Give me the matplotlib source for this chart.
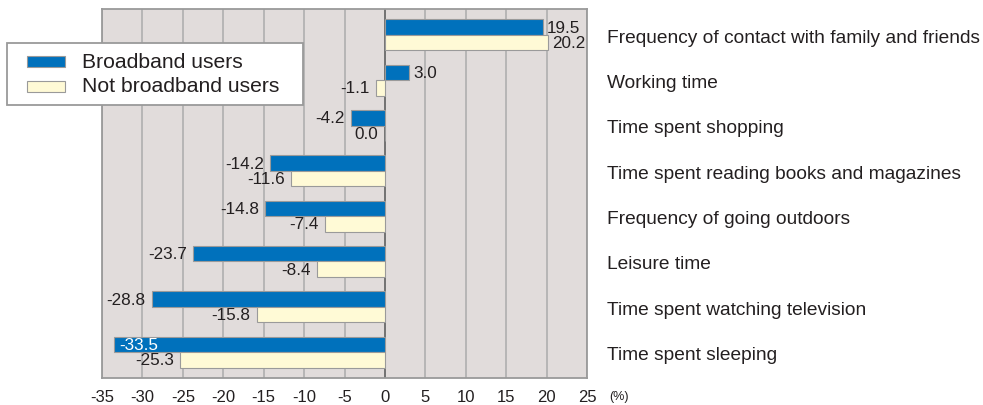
import numpy as np
import matplotlib
matplotlib.use('Agg')
import matplotlib.pyplot as plt
import matplotlib.patches as ptc
import matplotlib.transforms as mtr

plt.rcParams['font.family'] = ['Liberation Sans', 'DejaVu Sans']

categories = ['Frequency of contact with family and friends',
              'Working time',
              'Time spent shopping',
              'Time spent reading books and magazines',
              'Frequency of going outdoors',
              'Leisure time',
              'Time spent watching television',
              'Time spent sleeping']
broadband = [19.5, 3.0, -4.2, -14.2, -14.8, -23.7, -28.8, -33.5]
not_broadband = [20.2, -1.1, 0.0, -11.6, -7.4, -8.4, -15.8, -25.3]
series_names = ['Broadband users', 'Not broadband users']
xticks = list(range(-35, 30, 5))

BLUE = '#0071bc'
CREAM = '#fffad6'
EDGE = '#9a9a9a'
INK = '#231f20'

W, H = 983, 406
fig = plt.figure(figsize=(W/100, H/100), dpi=100)
ax = fig.add_axes([102/W, 27/H, 485/W, 369/H])
ax.set_facecolor('#e1dcdb')

y = np.arange(len(categories))
h = 0.34

ax.barh(y - h/2, broadband, height=h, color=BLUE, edgecolor=EDGE, linewidth=0.8, zorder=3)
ax.barh(y + h/2, not_broadband, height=h, color=CREAM, edgecolor=EDGE, linewidth=0.8, zorder=3)

# value labels, the longest bar gets its label inside in white
for i, (b, n) in enumerate(zip(broadband, not_broadband)):
    for v, yy in ((b, i - h/2), (n, i + h/2)):
        if v < -32:
            ax.text(v + 0.6, yy, '%.1f' % v, color='white', ha='left', va='center',
                    fontsize=12.3, zorder=4)
        elif v > 0:
            ax.text(v + 0.5, yy, '%.1f' % v, color=INK, ha='left', va='center',
                    fontsize=12.3, zorder=4)
        else:
            ax.text(v - 0.8, yy, '%.1f' % v, color=INK, ha='right', va='center',
                    fontsize=12.3, zorder=4)

ax.set_xlim(-35, 25)
ax.set_ylim(len(categories) - 1 + 0.57, -0.57)
ax.set_xticks(xticks)
ax.set_xticklabels([str(t) for t in xticks], fontsize=12, color=INK)
ax.set_yticks([])
ax.tick_params(axis='x', length=0, pad=8)
ax.grid(axis='x', color='#b3b3b3', linewidth=1.3, zorder=1)
ax.axvline(0, color='#6d6d6d', linewidth=1.3, zorder=2)
for s in ax.spines.values():
    s.set_color('#9a9a9a')
    s.set_linewidth(1.3)

fig.text(609/W, 1 - 397/H, '(%)', fontsize=9, color=INK, ha='left', va='center')

# category names on the right
trans = mtr.blended_transform_factory(fig.transFigure, ax.transData)
for i, c in enumerate(categories):
    ax.text(607/W, i + 0.05, c, transform=trans, fontsize=13.8, color=INK,
            va='center', ha='left', clip_on=False)

# legend box
fig.add_artist(ptc.Rectangle((7/W, 1 - 106/H), 296/W, 62/H, transform=fig.transFigure,
                             facecolor='white', edgecolor='#9a9a9a', linewidth=1.3, zorder=5))
for k, (name, col) in enumerate(zip(series_names, [BLUE, CREAM])):
    cy = 62 + 25*k
    fig.add_artist(ptc.Rectangle((27/W, 1 - (cy + 5.5)/H), 38/W, 11/H, transform=fig.transFigure,
                                 facecolor=col, edgecolor=EDGE, linewidth=0.8, zorder=6))
    fig.text(82.5/W, 1 - cy/H, name, fontsize=15.2, color=INK, ha='left', va='center', zorder=6)

fig.savefig('out.png', dpi=100)
